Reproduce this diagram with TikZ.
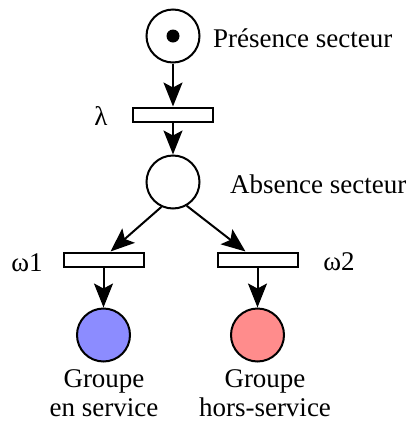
\documentclass[tikz,border=0pt]{standalone}
\usepackage{fontspec}
\setmainfont{Liberation Serif}
\usetikzlibrary{arrows.meta}
\definecolor{pblue}{HTML}{8C8CFF}
\definecolor{pred}{HTML}{FF8C8C}
\begin{document}
\begin{tikzpicture}[x=1pt,y=-1pt,
  place/.style={circle,draw,line width=2pt,minimum size=53pt,inner sep=0pt},
  trans/.style={rectangle,draw,line width=2pt,minimum width=80pt,minimum height=14pt,inner sep=0pt},
  token/.style={circle,fill=black,minimum size=13pt,inner sep=0pt},
  arr/.style={line width=2pt,-{Stealth[length=24pt,width=19pt,inset=5pt]}},
  lbl/.style={font=\fontsize{27}{29}\selectfont,inner sep=0pt}]
\useasboundingbox (0,0) rectangle (407,421);
\node[place] (p1) at (173,36) {};
\node[token] (tok) at (173,36) {};
\node[trans] (t0) at (173,114.5) {};
\node[place] (p2) at (173,182) {};
\node[trans] (t1) at (103.5,259.5) {};
\node[trans] (t2) at (257.5,259.5) {};
\node[place,fill=pblue] (p3) at (103.5,335) {};
\node[place,fill=pred] (p4) at (257.5,335) {};
\node[lbl,anchor=base west] (l1) at (213,47.5) {Présence secteur};
\node[lbl,anchor=base west] (l2) at (230,193) {Absence secteur};
\node[lbl] (l3) at (101,116) {λ};
\node[lbl,anchor=base] (l4) at (27,271) {ω1};
\node[lbl,anchor=base] (l5) at (339,270.5) {ω2};
\node[lbl,anchor=base,align=center] (l6) at (104,416) {Groupe\\en service};
\node[lbl,anchor=base,align=center] (l7) at (265,416) {Groupe\\hors-service};
\draw[arr] (p1) -- (t0);
\draw[arr] (t0) -- (p2);
\draw[arr] (p2.-115) -- ([xshift=-34pt]t1.north east);
\draw[arr] (p2.-60) -- ([xshift=29pt]t2.north west);
\draw[arr] (t1) -- (p3);
\draw[arr] (t2) -- (p4);
\end{tikzpicture}
\end{document}
